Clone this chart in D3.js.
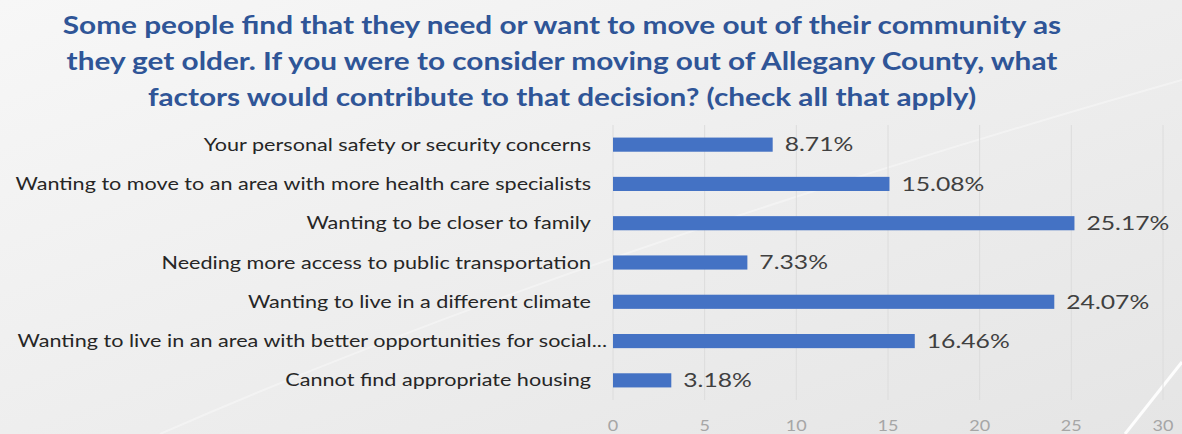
<!DOCTYPE html>
<html>
<head>
<meta charset="utf-8">
<script src="https://cdn.jsdelivr.net/npm/d3@7"></script>
<style>
  html, body { margin: 0; padding: 0; }
  body { width: 1182px; height: 434px; overflow: hidden; }
</style>
</head>
<body>
<div id="chart"></div>
<script>
const titleLines = [
  "Some people find that they need or want to move out of their community as",
  "they get older. If you were to consider moving out of Allegany County, what",
  "factors would contribute to that decision? (check all that apply)"
];
const categories = [
  "Your personal safety or security concerns",
  "Wanting to move to an area with more health care specialists",
  "Wanting to be closer to family",
  "Needing more access to public transportation",
  "Wanting to live in a different climate",
  "Wanting to live in an area with better opportunities for social...",
  "Cannot find appropriate housing"
];
const values = [8.71, 15.08, 25.17, 7.33, 24.07, 16.46, 3.18];
const tickValues = [0, 5, 10, 15, 20, 25, 30];

const width = 1182, height = 434;
const margin = { top: 125, bottom: 34, left: 613, right: 19 };
const plotBottom = 400;
const font = "Lato, 'Open Sans', sans-serif";

// the source picture is stretched sideways, so text gets widened a bit
function stretch(sel, k) {
  sel.each(function() {
    const w = this.getComputedTextLength();
    d3.select(this)
      .attr("textLength", w * k)
      .attr("lengthAdjust", "spacingAndGlyphs");
  });
}

const svg = d3.select("#chart")
  .append("svg")
  .attr("width", width)
  .attr("height", height);

// background
const defs = svg.append("defs");
const grad = defs.append("linearGradient")
  .attr("id", "bg")
  .attr("x1", "0").attr("y1", "0").attr("x2", "1").attr("y2", "1");
grad.append("stop").attr("offset", "0").attr("stop-color", "#f7f7f7");
grad.append("stop").attr("offset", "1").attr("stop-color", "#e5e5e5");

svg.append("rect")
  .attr("width", width)
  .attr("height", height)
  .attr("fill", "url(#bg)");

// faint light streaks
svg.append("path")
  .attr("d", "M160,434 C420,320 760,200 1182,80")
  .attr("fill", "none")
  .attr("stroke", "#ffffff")
  .attr("stroke-opacity", 0.35)
  .attr("stroke-width", 2);
svg.append("path")
  .attr("d", "M1125,434 L1182,362")
  .attr("fill", "none")
  .attr("stroke", "#ffffff")
  .attr("stroke-opacity", 0.9)
  .attr("stroke-width", 3);

const x = d3.scaleLinear()
  .domain([0, 30])
  .range([margin.left, width - margin.right]);

const y = d3.scaleBand()
  .domain(categories)
  .range([margin.top, plotBottom])
  .paddingInner(0.64)
  .paddingOuter(0.32);

// gridlines
svg.append("g")
  .selectAll("line")
  .data(tickValues)
  .join("line")
  .attr("x1", d => x(d))
  .attr("x2", d => x(d))
  .attr("y1", margin.top)
  .attr("y2", plotBottom)
  .attr("stroke", "#dcdcdc")
  .attr("stroke-width", 1);

// x tick labels
svg.append("g")
  .selectAll("text")
  .data(tickValues)
  .join("text")
  .attr("x", d => x(d))
  .attr("y", 431)
  .attr("text-anchor", "middle")
  .attr("font-family", font)
  .attr("font-size", 15)
  .attr("fill", "#a6a6a6")
  .text(d => d)
  .call(stretch, 1.2);

// bars
svg.append("g")
  .selectAll("rect")
  .data(values)
  .join("rect")
  .attr("x", x(0))
  .attr("y", (d, i) => y(categories[i]))
  .attr("width", d => x(d) - x(0))
  .attr("height", y.bandwidth())
  .attr("fill", "#4472c4");

// value labels
svg.append("g")
  .selectAll("text")
  .data(values)
  .join("text")
  .attr("x", d => x(d) + 12)
  .attr("y", (d, i) => y(categories[i]) + y.bandwidth() / 2)
  .attr("dy", "0.36em")
  .attr("font-family", font)
  .attr("font-size", 19)
  .attr("fill", "#404040")
  .text(d => d.toFixed(2) + "%")
  .call(stretch, 1.3);

// category labels (excel lets the truncated one run a little closer to the bar)
svg.append("g")
  .selectAll("text")
  .data(categories)
  .join("text")
  .attr("x", d => d.endsWith("...") ? 607 : 591)
  .attr("y", d => y(d) + y.bandwidth() / 2)
  .attr("dy", "0.36em")
  .attr("text-anchor", "end")
  .attr("font-family", font)
  .attr("font-size", 17)
  .attr("fill", "#262626")
  .text(d => d)
  .call(stretch, 1.27);

// title
svg.append("g")
  .selectAll("text")
  .data(titleLines)
  .join("text")
  .attr("x", 562)
  .attr("y", (d, i) => 34 + i * 36)
  .attr("text-anchor", "middle")
  .attr("font-family", font)
  .attr("font-weight", 700)
  .attr("font-size", 25)
  .attr("fill", "#2f5597")
  .text(d => d)
  .call(stretch, 1.19);
</script>
</body>
</html>
